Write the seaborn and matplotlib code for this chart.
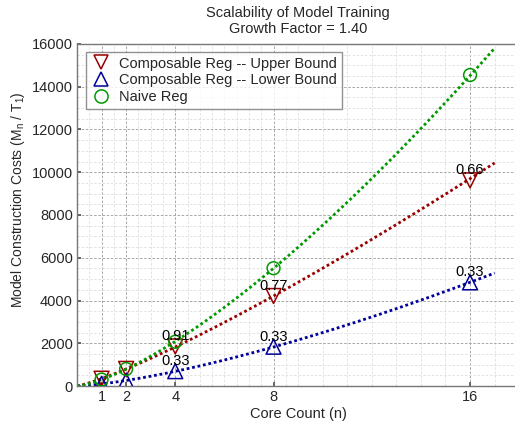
import numpy as np
import pandas as pd
import matplotlib
matplotlib.use("Agg")
import matplotlib.pyplot as plt
import seaborn as sns

# ---- data ----
cores = [1, 2, 4, 8, 16]
upper_bound = [340, 800, 1850, 4210, 9620]
lower_bound = [100, 245, 695, 1840, 4850]
naive = [300, 795, 2070, 5510, 14550]
eff_cores = [4, 8, 16]
upper_eff_labels = ["0.91", "0.77", "0.66"]
upper_eff_y = [1850, 4210, 9620]
lower_eff_labels = ["0.33", "0.33", "0.33"]
lower_eff_y = [695, 1840, 4850]
xtick_vals = [1, 2, 4, 8, 16]
ytick_vals = [0, 2000, 4000, 6000, 8000, 10000, 12000, 14000, 16000]

sns.set_theme(style="white")
plt.rcParams['font.family'] = ['Liberation Sans', 'DejaVu Sans']
plt.rcParams['mathtext.fontset'] = 'custom'
plt.rcParams['mathtext.rm'] = 'Liberation Sans'
plt.rcParams['mathtext.it'] = 'Liberation Sans'

W, H = 515, 421
fig = plt.figure(figsize=(W / 100, H / 100), dpi=100)
x0, x1 = 77, 519.2
y0, y1 = 386, 44
ax = fig.add_axes([x0 / W, 1 - y0 / H, (x1 - x0) / W, (y0 - y1) / H])

RED = '#990000'
BLUE = '#000099'
GREEN = '#009900'

df = pd.DataFrame({'cores': cores, 'upper': upper_bound, 'lower': lower_bound, 'naive': naive})

# power-law fits of each series (drawn as dotted curves)
xs = np.linspace(0.001, 17, 300)
for col, color in [('upper', RED), ('lower', BLUE), ('naive', GREEN)]:
    b, la = np.polyfit(np.log(df['cores']), np.log(df[col]), 1)
    fit = pd.DataFrame({'x': xs, 'y': np.exp(la) * xs ** b})
    sns.lineplot(data=fit, x='x', y='y', ax=ax, color=color, lw=2.0,
                 linestyle=(0, (1, 1)), legend=False)

series = [('upper', RED, 'v', 115, 'Composable Reg -- Upper Bound'),
          ('lower', BLUE, '^', 115, 'Composable Reg -- Lower Bound'),
          ('naive', GREEN, 'o', 85, 'Naive Reg')]
handles = []
for col, color, mk, sz, lab in series:
    sns.scatterplot(data=df, x='cores', y=col, ax=ax, marker=mk, s=sz,
                    facecolors='none', edgecolors=color, linewidths=1.1,
                    legend=False, zorder=5)
    handles.append(plt.Line2D([], [], ls='none', marker=mk,
                              markersize=10 if mk != 'o' else 9.5,
                              markerfacecolor='none', markeredgecolor=color,
                              markeredgewidth=1.1, label=lab))

for xv, yv, t in zip(eff_cores, upper_eff_y, upper_eff_labels):
    ax.annotate(t, (xv, yv), xytext=(0, 4.3), textcoords='offset points',
                ha='center', va='baseline', fontsize=10.5, color='black', zorder=6)
for xv, yv, t in zip(eff_cores, lower_eff_y, lower_eff_labels):
    ax.annotate(t, (xv, yv), xytext=(0, 4.3), textcoords='offset points',
                ha='center', va='baseline', fontsize=10.5, color='black', zorder=6)

ax.set_xlim(0, 18)
ax.set_ylim(0, 16000)
ax.set_xticks(xtick_vals)
ax.set_xticklabels([str(v) for v in xtick_vals])
ax.set_yticks(ytick_vals)
ax.set_yticklabels([str(v) for v in ytick_vals])
minor_x = list(np.arange(0.5, 9.01, 0.5)) + list(range(10, 18))
ax.set_xticks(minor_x, minor=True)
ax.set_yticks(np.arange(0, 16001, 500), minor=True)
ax.grid(True, which='major', color='#9a9a9a', linestyle=(0, (3, 2)), linewidth=0.6)
ax.grid(True, which='minor', color='#dedede', linestyle=(0, (3, 2)), linewidth=0.6)
ax.set_axisbelow(True)
ax.tick_params(axis='both', which='major', labelsize=10.5, length=3, direction='in',
               color='#555555', pad=3, left=True, bottom=True)
ax.tick_params(axis='both', which='minor', length=0)
for s in ax.spines.values():
    s.set_color('#777777')
    s.set_linewidth(1.0)

ax.set_xlabel('Core Count (n)', fontsize=10.5, labelpad=2)
ax.set_ylabel(r'Model Construction Costs (M$_n$ / T$_1$)', fontsize=10)
ax.yaxis.set_label_coords(-0.112, 0.545)
ax.set_title('Scalability of Model Training\nGrowth Factor = 1.40', fontsize=10.5,
             linespacing=1.15, pad=8)

leg = ax.legend(handles=handles, loc='upper left', bbox_to_anchor=(0.02, 0.976),
                fontsize=10.5, frameon=True, fancybox=False, edgecolor='#777777',
                handletextpad=0.5, borderpad=0.3, labelspacing=0.2,
                handlelength=1.5, borderaxespad=0)
leg.get_frame().set_linewidth(1.0)

fig.savefig('out.png', dpi=100)
